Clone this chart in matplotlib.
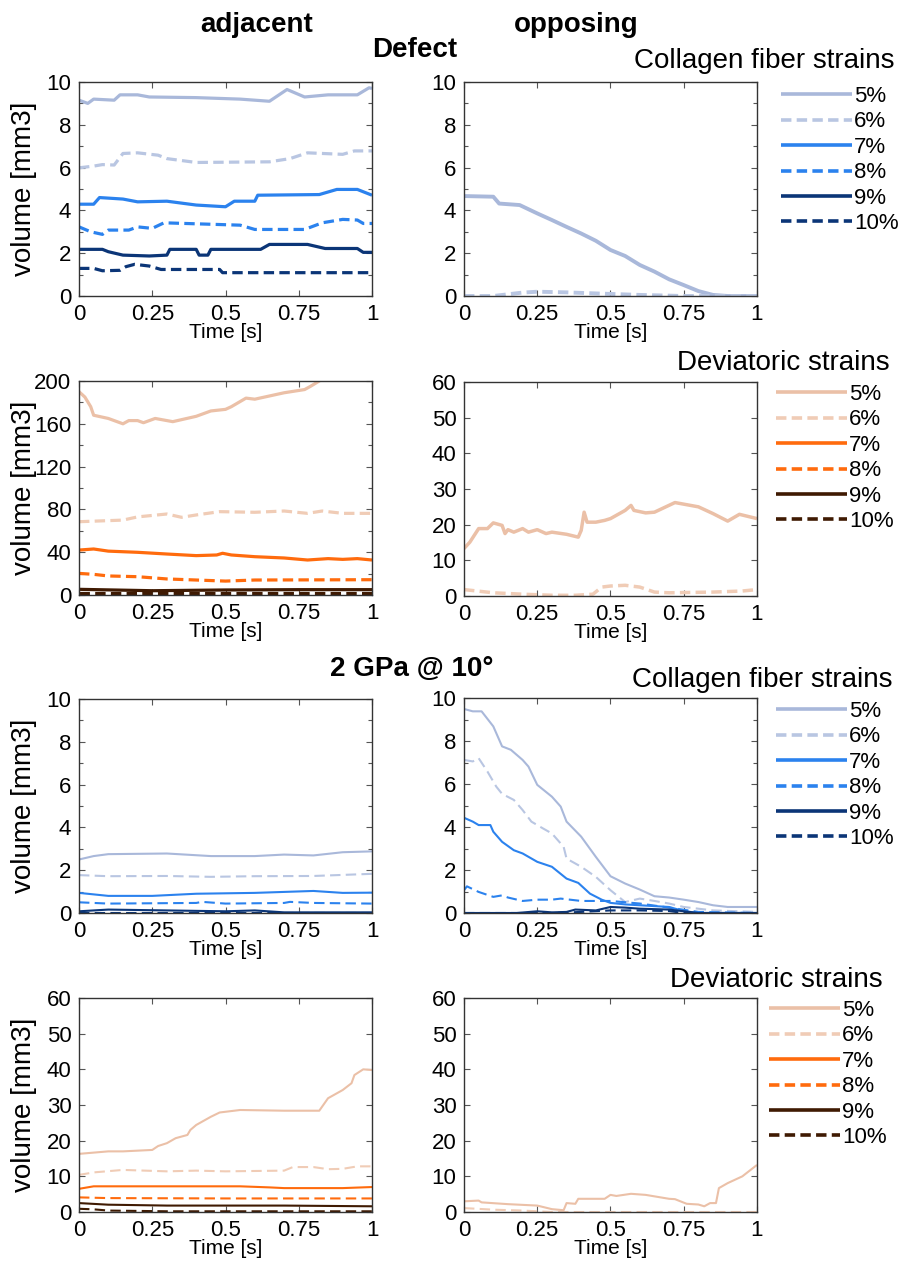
import matplotlib
matplotlib.use('Agg')
import matplotlib.pyplot as plt
from matplotlib.ticker import MultipleLocator

plt.rcParams['font.family'] = ['Liberation Sans', 'DejaVu Sans']
plt.rcParams['lines.scale_dashes'] = False

W, H = 901, 1265

LABELS = ['5%', '6%', '7%', '8%', '9%', '10%']
BLUES = ['#a9b8da', '#b9c6e2', '#2b82ee', '#2b82ee', '#0b3577', '#0b3577']
ORANGES = ['#ebc0a7', '#f0ccb6', '#ff6b0d', '#ff6b0d', '#3f1a02', '#3f1a02']
STYLES = ['-', (0, (7.5, 3.8)), '-', (0, (7.5, 3.8)), '-', (0, (7.5, 3.8))]

# ---------------- Defect, adjacent, collagen fiber strains ----------------
D_ADJ_C5_T = [0, 0.03, 0.05, 0.12, 0.14, 0.2, 0.24, 0.4, 0.55, 0.65, 0.71, 0.77, 0.85, 0.95, 0.99, 1.0]
D_ADJ_C5_V = [9.15, 9.0, 9.2, 9.15, 9.4, 9.4, 9.3, 9.27, 9.2, 9.1, 9.65, 9.3, 9.4, 9.4, 9.73, 9.7]
D_ADJ_C6_T = [0, 0.05, 0.08, 0.12, 0.15, 0.2, 0.27, 0.3, 0.4, 0.65, 0.72, 0.78, 0.9, 0.94, 1.0]
D_ADJ_C6_V = [5.99, 6.07, 6.14, 6.12, 6.66, 6.69, 6.58, 6.42, 6.24, 6.27, 6.42, 6.69, 6.62, 6.78, 6.78]
D_ADJ_C7_T = [0, 0.05, 0.07, 0.15, 0.2, 0.3, 0.4, 0.5, 0.53, 0.6, 0.61, 0.82, 0.88, 0.95, 1.0]
D_ADJ_C7_V = [4.29, 4.29, 4.6, 4.53, 4.4, 4.43, 4.25, 4.17, 4.43, 4.43, 4.71, 4.74, 4.98, 4.98, 4.71]
D_ADJ_C8_T = [0, 0.04, 0.08, 0.1, 0.17, 0.2, 0.25, 0.29, 0.55, 0.6, 0.77, 0.83, 0.9, 0.95, 0.97, 1.0]
D_ADJ_C8_V = [3.23, 3.0, 2.88, 3.08, 3.08, 3.23, 3.16, 3.42, 3.31, 3.11, 3.11, 3.42, 3.58, 3.55, 3.39, 3.39]
D_ADJ_C9_T = [0, 0.08, 0.1, 0.15, 0.24, 0.3, 0.31, 0.4, 0.41, 0.44, 0.45, 0.62, 0.65, 0.78, 0.84, 0.95, 0.97, 1.0]
D_ADJ_C9_V = [2.18, 2.18, 2.07, 1.91, 1.87, 1.91, 2.18, 2.18, 1.91, 1.91, 2.18, 2.18, 2.41, 2.41, 2.22, 2.22, 2.04, 2.04]
D_ADJ_C10_T = [0, 0.05, 0.08, 0.14, 0.16, 0.19, 0.24, 0.28, 0.48, 0.49, 1.0]
D_ADJ_C10_V = [1.29, 1.29, 1.18, 1.2, 1.37, 1.48, 1.4, 1.24, 1.24, 1.09, 1.09]

# ---------------- Defect, opposing, collagen fiber strains ----------------
D_OPP_C5_T = [0, 0.1, 0.12, 0.19, 0.25, 0.3, 0.35, 0.4, 0.45, 0.5, 0.55, 0.6, 0.65, 0.7, 0.75, 0.8, 0.85, 0.9, 1.0]
D_OPP_C5_V = [4.67, 4.64, 4.32, 4.25, 3.86, 3.55, 3.23, 2.92, 2.58, 2.15, 1.87, 1.45, 1.14, 0.78, 0.51, 0.23, 0.05, 0.0, 0.0]
D_OPP_C6_T = [0, 0.1, 0.15, 0.2, 0.25, 0.35, 0.45, 0.6, 0.75, 1.0]
D_OPP_C6_V = [0, 0, 0.08, 0.16, 0.2, 0.17, 0.12, 0.05, 0, 0]

# ---------------- Defect, adjacent, deviatoric strains ----------------
D_ADJ_D5_T = [0, 0.02, 0.04, 0.05, 0.1, 0.15, 0.17, 0.2, 0.22, 0.26, 0.3, 0.32, 0.4, 0.45, 0.5, 0.52, 0.57, 0.6, 0.65, 0.7, 0.77, 0.79, 0.82, 0.84]
D_ADJ_D5_V = [190, 185, 176, 168, 165, 160, 163, 163, 161, 165, 163, 162, 167, 172, 173.5, 176, 184, 183, 186, 189, 192, 195, 200, 205]
D_ADJ_D6_T = [0, 0.15, 0.2, 0.3, 0.35, 0.4, 0.48, 0.6, 0.7, 0.78, 0.83, 0.9, 1.0]
D_ADJ_D6_V = [68.5, 70, 73, 75.7, 72.6, 74.8, 77.9, 77.3, 78.5, 76.3, 78.5, 76.3, 76.3]
D_ADJ_D7_T = [0, 0.05, 0.1, 0.2, 0.3, 0.4, 0.47, 0.49, 0.52, 0.6, 0.7, 0.78, 0.85, 0.9, 0.95, 1.0]
D_ADJ_D7_V = [42, 43, 41, 39.9, 38.3, 36.8, 37.4, 39, 37.4, 35.8, 34.6, 32.7, 34, 33.3, 34, 32.7]
D_ADJ_D8_T = [0, 0.05, 0.1, 0.2, 0.3, 0.4, 0.5, 0.6, 1.0]
D_ADJ_D8_V = [20.2, 19.3, 17.8, 17.1, 15, 14, 13, 14, 14.3]
D_ADJ_D9_T = [0, 0.25, 0.5, 0.75, 1.0]
D_ADJ_D9_V = [5.3, 4, 4.7, 5, 5]
D_ADJ_D10_T = [0, 1.0]
D_ADJ_D10_V = [1.5, 1.5]

# ---------------- Defect, opposing, deviatoric strains ----------------
D_OPP_D5_T = [0, 0.02, 0.05, 0.08, 0.1, 0.13, 0.14, 0.15, 0.17, 0.2, 0.22, 0.25, 0.28, 0.3, 0.35, 0.39, 0.4, 0.41,
              0.42, 0.45, 0.48, 0.5, 0.55, 0.57, 0.58, 0.62, 0.65, 0.72, 0.8, 0.85, 0.9, 0.94, 1.0]
D_OPP_D5_V = [13.3, 15.1, 18.9, 18.9, 20.5, 19.8, 17.5, 18.6, 17.9, 18.9, 17.9, 18.6, 17.5, 17.9, 17.3, 16.5, 18.4, 23.5,
              20.7, 20.7, 21.2, 21.7, 24, 25.4, 24, 23.3, 23.5, 26.2, 25, 23.1, 21, 22.9, 21.7]
D_OPP_D6_T = [0, 0.1, 0.2, 0.3, 0.38, 0.44, 0.47, 0.5, 0.55, 0.6, 0.65, 0.7, 0.85, 0.95, 1.0]
D_OPP_D6_V = [1.8, 0.9, 0.5, 0.2, 0.2, 0.5, 2.5, 2.8, 3.0, 2.5, 1.1, 0.9, 1.1, 1.4, 1.8]

# ---------------- 2 GPa @ 10deg, adjacent, collagen fiber strains ----------------
G_ADJ_C5_T = [0, 0.05, 0.1, 0.3, 0.45, 0.6, 0.7, 0.8, 0.9, 1.0]
G_ADJ_C5_V = [2.5, 2.66, 2.75, 2.78, 2.66, 2.66, 2.73, 2.69, 2.84, 2.88]
G_ADJ_C6_T = [0, 0.1, 0.3, 0.45, 0.6, 0.8, 1.0]
G_ADJ_C6_V = [1.77, 1.72, 1.73, 1.69, 1.72, 1.73, 1.83]
G_ADJ_C7_T = [0, 0.1, 0.25, 0.4, 0.6, 0.8, 0.9, 1.0]
G_ADJ_C7_V = [0.94, 0.8, 0.8, 0.9, 0.94, 1.03, 0.94, 0.95]
G_ADJ_C8_T = [0, 0.1, 0.4, 0.42, 0.5, 0.7, 0.72, 0.8, 1.0]
G_ADJ_C8_V = [0.5, 0.44, 0.47, 0.52, 0.44, 0.47, 0.52, 0.47, 0.44]
G_ADJ_C9_T = [0, 0.1, 0.5, 0.6, 0.7, 1.0]
G_ADJ_C9_V = [0.08, 0.16, 0.08, 0.12, 0.03, 0.03]
G_ADJ_C10_T = [0, 1.0]
G_ADJ_C10_V = [0.02, 0.02]

# ---------------- 2 GPa @ 10deg, opposing, collagen fiber strains ----------------
G_OPP_C5_T = [0, 0.03, 0.06, 0.1, 0.13, 0.16, 0.2, 0.22, 0.25, 0.3, 0.33, 0.35, 0.4, 0.45, 0.5, 0.55, 0.6, 0.65, 0.7, 0.75, 0.8, 0.85, 0.9, 1.0]
G_OPP_C5_V = [9.49, 9.38, 9.38, 8.68, 7.75, 7.59, 7.12, 6.81, 5.96, 5.41, 4.95, 4.25, 3.55, 2.61, 1.71, 1.37, 1.09, 0.78, 0.72, 0.62, 0.51, 0.36, 0.28, 0.28]
G_OPP_C6_T = [0, 0.03, 0.05, 0.08, 0.11, 0.13, 0.17, 0.2, 0.23, 0.27, 0.3, 0.34, 0.35, 0.4, 0.45, 0.5, 0.55, 0.6, 0.65, 0.7, 0.75, 0.85, 1.0]
G_OPP_C6_V = [7.12, 7.05, 7.2, 6.58, 5.88, 5.54, 5.26, 4.79, 4.25, 3.93, 3.7, 3.08, 2.53, 2.15, 1.68, 1.06, 0.51, 0.67, 0.56, 0.44, 0.28, 0.12, 0.05]
G_OPP_C7_T = [0, 0.03, 0.05, 0.09, 0.1, 0.13, 0.17, 0.2, 0.25, 0.3, 0.35, 0.39, 0.43, 0.47, 0.5, 0.55, 0.6, 0.7, 0.75, 0.8, 1.0]
G_OPP_C7_V = [4.43, 4.25, 4.09, 4.09, 3.78, 3.31, 2.92, 2.77, 2.38, 2.15, 1.6, 1.4, 0.9, 0.62, 0.47, 0.4, 0.36, 0.28, 0.09, 0.0, 0.0]
G_OPP_C8_T = [0, 0.01, 0.05, 0.1, 0.13, 0.15, 0.2, 0.25, 0.3, 0.33, 0.4, 0.5, 0.6, 0.7, 0.8, 1.0]
G_OPP_C8_V = [1.06, 1.24, 0.98, 0.75, 0.82, 0.72, 0.56, 0.62, 0.62, 0.67, 0.56, 0.56, 0.44, 0.25, 0.05, 0.0]
G_OPP_C9_T = [0, 0.18, 0.25, 0.3, 0.35, 0.38, 0.45, 0.5, 0.55, 0.6, 0.7, 0.8, 1.0]
G_OPP_C9_V = [0, 0, 0.08, 0.03, 0.05, 0.16, 0.12, 0.28, 0.25, 0.2, 0.16, 0.0, 0.0]
G_OPP_C10_T = [0, 0.3, 0.4, 0.5, 0.6, 0.7, 0.75, 1.0]
G_OPP_C10_V = [0, 0, 0.05, 0.12, 0.12, 0.09, 0.0, 0.0]

# ---------------- 2 GPa @ 10deg, adjacent, deviatoric strains ----------------
G_ADJ_D5_T = [0, 0.1, 0.15, 0.25, 0.27, 0.3, 0.33, 0.37, 0.38, 0.4, 0.45, 0.48, 0.5, 0.55, 0.7, 0.82, 0.85, 0.9, 0.93, 0.94, 0.97, 1.0]
G_ADJ_D5_V = [16.3, 17, 17, 17.4, 18.5, 19.3, 20.7, 21.6, 23, 24.4, 26.7, 27.9, 28.1, 28.6, 28.4, 28.4, 31.9, 34.2, 36.1, 38.4, 40, 39.8]
G_ADJ_D6_T = [0, 0.05, 0.15, 0.3, 0.4, 0.5, 0.7, 0.73, 0.8, 0.85, 0.9, 0.95, 1.0]
G_ADJ_D6_V = [10.4, 11.1, 11.8, 11.4, 11.6, 11.4, 11.6, 12.6, 12.6, 12.0, 12.1, 12.8, 12.8]
G_ADJ_D7_T = [0, 0.05, 0.3, 0.55, 0.65, 0.7, 0.9, 1.0]
G_ADJ_D7_V = [6.5, 7.2, 7.2, 7.2, 6.9, 6.7, 6.7, 7.0]
G_ADJ_D8_T = [0, 0.1, 0.5, 1.0]
G_ADJ_D8_V = [4.1, 3.9, 3.8, 3.8]
G_ADJ_D9_T = [0, 0.1, 0.3, 0.7, 1.0]
G_ADJ_D9_V = [2.5, 2.05, 1.8, 1.8, 1.6]
G_ADJ_D10_T = [0, 0.05, 0.1, 0.3, 1.0]
G_ADJ_D10_V = [0.9, 0.75, 0.4, 0.2, 0.2]

# ---------------- 2 GPa @ 10deg, opposing, deviatoric strains ----------------
G_OPP_D5_T = [0, 0.05, 0.06, 0.15, 0.25, 0.3, 0.34, 0.35, 0.38, 0.39, 0.48, 0.5, 0.52, 0.57, 0.62, 0.7, 0.72, 0.76, 0.8, 0.82, 0.84, 0.86, 0.87, 0.9, 0.95, 1.0]
G_OPP_D5_V = [3.0, 3.2, 2.7, 2.2, 1.8, 0.8, 0.5, 2.5, 2.3, 3.7, 3.7, 4.8, 4.5, 5.1, 4.8, 3.7, 3.6, 2.3, 2.1, 1.6, 2.5, 2.5, 6.7, 8.1, 10.0, 13.2]
G_OPP_D6_T = [0, 0.1, 0.2, 0.3, 1.0]
G_OPP_D6_V = [1.1, 0.65, 0.4, 0.0, 0.0]


def ax_rect(x0, y0, x1, y1):
    return [x0 / W, 1 - y1 / H, (x1 - x0) / W, (y1 - y0) / H]


fig = plt.figure(figsize=(W / 100, H / 100), dpi=100)


def make_axes(rect, ylim, major, minor, ylabel):
    ax = fig.add_axes(rect)
    ax.set_xlim(0, 1)
    ax.set_ylim(*ylim)
    ax.set_xticks([0, 0.25, 0.5, 0.75, 1])
    ax.set_xticklabels(['0', '0.25', '0.5', '0.75', '1'])
    ax.yaxis.set_major_locator(MultipleLocator(major))
    if minor:
        ax.yaxis.set_minor_locator(MultipleLocator(minor))
    ax.tick_params(which='both', direction='in', top=True, right=True,
                   labelsize=16, color='#555555', pad=5.5)
    ax.tick_params(which='major', length=4, width=0.8)
    ax.tick_params(which='minor', length=3, width=0.8)
    for sp in ax.spines.values():
        sp.set_color('#333333')
        sp.set_linewidth(1.0)
    ax.set_xlabel('Time [s]', fontsize=15, labelpad=-1)
    if ylabel:
        ax.set_ylabel('volume [mm3]', fontsize=20)
        ax.yaxis.set_label_coords(-0.143, 0.5)
    return ax


def draw(ax, series, colors, lw):
    handles = []
    for idx, t, v in series:
        ln, = ax.plot(t, v, color=colors[idx], linestyle=STYLES[idx], lw=lw,
                      solid_capstyle='butt', dash_capstyle='butt')
        handles.append(ln)
    return handles


LEFT = (79, 372)
RIGHT = (464, 757)

# Row 1
ax1 = make_axes(ax_rect(LEFT[0], 82, LEFT[1], 296), (0, 10), 2, 1, True)
h_blue = draw(ax1, [(0, D_ADJ_C5_T, D_ADJ_C5_V), (1, D_ADJ_C6_T, D_ADJ_C6_V), (2, D_ADJ_C7_T, D_ADJ_C7_V),
                    (3, D_ADJ_C8_T, D_ADJ_C8_V), (4, D_ADJ_C9_T, D_ADJ_C9_V), (5, D_ADJ_C10_T, D_ADJ_C10_V)],
              BLUES, 2.3)
ax2 = make_axes(ax_rect(RIGHT[0], 82, RIGHT[1], 296), (0, 10), 2, 1, False)
draw(ax2, [(0, D_OPP_C5_T, D_OPP_C5_V), (1, D_OPP_C6_T, D_OPP_C6_V)], BLUES, 2.8)

# Row 2
ax3 = make_axes(ax_rect(LEFT[0], 381, LEFT[1], 595), (0, 200), 40, 20, True)
h_orange = draw(ax3, [(0, D_ADJ_D5_T, D_ADJ_D5_V), (1, D_ADJ_D6_T, D_ADJ_D6_V), (2, D_ADJ_D7_T, D_ADJ_D7_V),
                      (3, D_ADJ_D8_T, D_ADJ_D8_V), (4, D_ADJ_D9_T, D_ADJ_D9_V), (5, D_ADJ_D10_T, D_ADJ_D10_V)],
                ORANGES, 2.3)
ax4 = make_axes(ax_rect(RIGHT[0], 382, RIGHT[1], 596), (0, 60), 10, None, False)
draw(ax4, [(0, D_OPP_D5_T, D_OPP_D5_V), (1, D_OPP_D6_T, D_OPP_D6_V)], ORANGES, 2.5)

# Row 3
ax5 = make_axes(ax_rect(LEFT[0], 699, LEFT[1], 913), (0, 10), 2, 1, True)
draw(ax5, [(0, G_ADJ_C5_T, G_ADJ_C5_V), (1, G_ADJ_C6_T, G_ADJ_C6_V), (2, G_ADJ_C7_T, G_ADJ_C7_V),
           (3, G_ADJ_C8_T, G_ADJ_C8_V), (4, G_ADJ_C9_T, G_ADJ_C9_V), (5, G_ADJ_C10_T, G_ADJ_C10_V)],
     BLUES, 1.5)
ax6 = make_axes(ax_rect(RIGHT[0], 698, RIGHT[1], 913), (0, 10), 2, 1, False)
draw(ax6, [(0, G_OPP_C5_T, G_OPP_C5_V), (1, G_OPP_C6_T, G_OPP_C6_V), (2, G_OPP_C7_T, G_OPP_C7_V),
           (3, G_OPP_C8_T, G_OPP_C8_V), (4, G_OPP_C9_T, G_OPP_C9_V), (5, G_OPP_C10_T, G_OPP_C10_V)],
     BLUES, 1.5)

# Row 4
ax7 = make_axes(ax_rect(LEFT[0], 998, LEFT[1], 1212), (0, 60), 10, None, True)
draw(ax7, [(0, G_ADJ_D5_T, G_ADJ_D5_V), (1, G_ADJ_D6_T, G_ADJ_D6_V), (2, G_ADJ_D7_T, G_ADJ_D7_V),
           (3, G_ADJ_D8_T, G_ADJ_D8_V), (4, G_ADJ_D9_T, G_ADJ_D9_V), (5, G_ADJ_D10_T, G_ADJ_D10_V)],
     ORANGES, 1.5)
ax8 = make_axes(ax_rect(RIGHT[0], 998, RIGHT[1], 1212), (0, 60), 10, None, False)
draw(ax8, [(0, G_OPP_D5_T, G_OPP_D5_V), (1, G_OPP_D6_T, G_OPP_D6_V)], ORANGES, 1.5)


def legend(handles, x, ytop):
    lg = fig.legend(handles, LABELS, loc='upper left', bbox_to_anchor=(x / W, 1 - ytop / H),
                    frameon=False, fontsize=16, handlelength=3.2, handletextpad=0.1,
                    labelspacing=0.2, borderpad=0, borderaxespad=0)
    for ln in lg.get_lines():
        ln.set_linewidth(2.6)
    return lg


legend(h_blue, 781, 86)
legend(h_orange, 776, 384)
legend(h_blue, 776, 701)
legend(h_orange, 769, 1000)

# Headers
fig.text(257 / W, 1 - 32 / H, 'adjacent', fontsize=20, fontweight='bold', ha='center', va='baseline')
fig.text(576 / W, 1 - 32 / H, 'opposing', fontsize=20, fontweight='bold', ha='center', va='baseline')
fig.text(415 / W, 1 - 57 / H, 'Defect', fontsize=20, fontweight='bold', ha='center', va='baseline')
fig.text(412 / W, 1 - 676 / H, '2 GPa @ 10°', fontsize=20, fontweight='bold', ha='center', va='baseline')
fig.text(895 / W, 1 - 68 / H, 'Collagen fiber strains', fontsize=20, ha='right', va='baseline')
fig.text(890 / W, 1 - 370 / H, 'Deviatoric strains', fontsize=20, ha='right', va='baseline')
fig.text(893 / W, 1 - 687 / H, 'Collagen fiber strains', fontsize=20, ha='right', va='baseline')
fig.text(883 / W, 1 - 987 / H, 'Deviatoric strains', fontsize=20, ha='right', va='baseline')

fig.savefig('out.png', dpi=100)
